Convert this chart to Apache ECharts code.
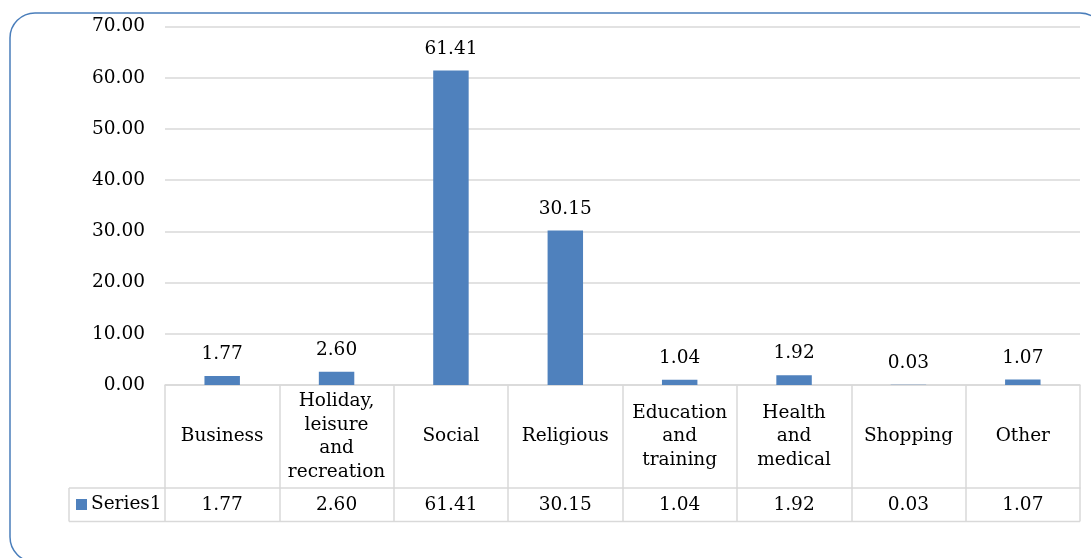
<!DOCTYPE html>
<html>
<head>
<meta charset="utf-8">
<script src="https://cdn.jsdelivr.net/npm/echarts@6/dist/echarts.min.js"></script>
<style>
html,body{margin:0;padding:0;background:#fff;}
#chart{width:1091px;height:558px;}
</style>
</head>
<body>
<div id="chart"></div>
<script>
const categories = ['Business', 'Holiday, leisure and recreation', 'Social', 'Religious', 'Education and training', 'Health and medical', 'Shopping', 'Other'];
const tickLabels = ['Business', 'Holiday,\nleisure\nand\nrecreation', 'Social', 'Religious', 'Education\nand\ntraining', 'Health\nand\nmedical', 'Shopping', 'Other'];
const seriesName = 'Series1';
const values = [1.77, 2.60, 61.41, 30.15, 1.04, 1.92, 0.03, 1.07];
const yTicks = [0, 10, 20, 30, 40, 50, 60, 70];

const FONT = 'DejaVu Serif';
const FS = 18.5;
const TXT = '#000';
const LINE = '#d9d9d9';
const BLUE = '#4f81bd';

const chart = echarts.init(document.getElementById('chart'));
const gridTop = 26.5, gridBottom = 173, gridLeft = 165, gridRight = 11;
const headerH = 103, valueH = 33.5;

chart.setOption({
  animation: false,
  textStyle: {fontFamily: FONT},
  grid: {left: gridLeft, right: gridRight, top: gridTop, bottom: gridBottom, containLabel: false},
  legend: {
    data: [seriesName], left: 76, top: 494.5, padding: 0, icon: 'rect', itemWidth: 11, itemHeight: 11,
    itemGap: 0, textStyle: {fontFamily: FONT, fontSize: FS, lineHeight: 20, color: TXT, padding: [0,0,0,-1]}
  },
  xAxis: [
    {
      type: 'category', data: categories, position: 'bottom',
      axisLine: {show: true, lineStyle: {color: LINE, width: 1.5}},
      axisTick: {show: true, length: headerH + valueH, lineStyle: {color: LINE, width: 1.5}},
      axisLabel: {
        interval: 0, margin: headerH / 2, verticalAlign: 'middle', lineHeight: 23.5,
        fontFamily: FONT, fontSize: FS, color: TXT,
        formatter: (v, i) => tickLabels[i]
      },
      splitLine: {show: false}
    },
    {
      type: 'category', data: values.map(v => v.toFixed(2)), position: 'bottom', offset: headerH,
      axisLine: {show: true, lineStyle: {color: LINE, width: 1.5}},
      axisTick: {show: false},
      axisLabel: {interval: 0, margin: valueH / 2, verticalAlign: 'middle', fontFamily: FONT, fontSize: FS, color: TXT},
      splitLine: {show: false}
    }
  ],
  yAxis: {
    type: 'value', min: 0, max: 70, interval: 10,
    axisLine: {show: false}, axisTick: {show: false},
    axisLabel: {margin: 20, fontFamily: FONT, fontSize: FS, color: TXT, formatter: v => yTicks.includes(v) ? v.toFixed(2) : ''},
    splitLine: {show: true, lineStyle: {color: LINE, width: 1.5}}
  },
  series: [{
    name: seriesName, type: 'bar', data: values, xAxisIndex: 0, barWidth: '31%',
    itemStyle: {color: BLUE},
    label: {show: true, position: 'top', distance: 12, fontFamily: FONT, fontSize: FS, color: TXT, formatter: p => p.value.toFixed(2)}
  }]
});

// table frame computed from grid
const rect = chart.getModel().getComponent('grid', 0).coordinateSystem.getRect();
const yAxisBottom = rect.y + rect.height;
const rowTop = yAxisBottom + headerH;
const rowBottom = rowTop + valueH;
const legendLeft = 69;
chart.setOption({
  graphic: [
    {type: 'rect', shape: {x: 10, y: 13, width: 1095, height: 549, r: 25}, style: {fill: 'none', stroke: '#4a7ebb', lineWidth: 1.5}, silent: true, z: 0},
    {type: 'line', shape: {x1: legendLeft, y1: rowTop, x2: rect.x, y2: rowTop}, style: {stroke: LINE, lineWidth: 1.5}},
    {type: 'line', shape: {x1: legendLeft, y1: rowBottom, x2: rect.x + rect.width, y2: rowBottom}, style: {stroke: LINE, lineWidth: 1.5}},
    {type: 'line', shape: {x1: legendLeft, y1: rowTop, x2: legendLeft, y2: rowBottom}, style: {stroke: LINE, lineWidth: 1.5}}
  ]
});
</script>
</body>
</html>
